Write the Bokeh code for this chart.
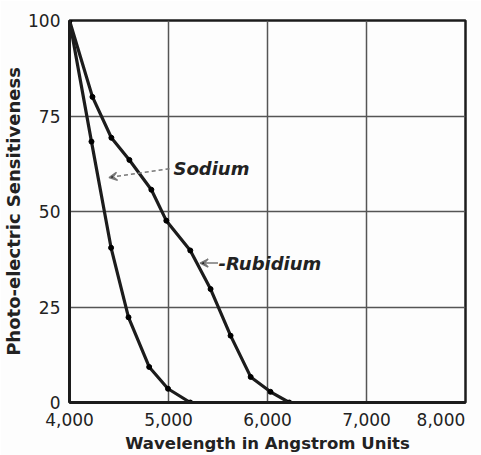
from bokeh.plotting import figure
from bokeh.models import Range1d, FixedTicker, Label, Arrow, VeeHead
from bokeh.embed import file_html
from bokeh.resources import INLINE

# ---- data ----
sodium_wl = [4000, 4222, 4420, 4596, 4805, 4995, 5220]
sodium_val = [100, 68.3, 40.5, 22.3, 9.3, 3.6, 0]

rubidium_wl = [4000, 4232, 4423, 4605, 4827, 4978, 5220, 5425, 5627, 5830, 6030, 6220]
rubidium_val = [100, 80, 69.3, 63.5, 55.7, 47.6, 39.8, 29.7, 17.5, 6.7, 2.8, 0]

x_ticks = [4000, 5000, 6000, 7000, 8000]
x_tick_labels = ["4,000", "5,000", "6,000", "7,000", "8,000"]
y_ticks = [0, 25, 50, 75, 100]

FONT = "DejaVu Sans"
INK = "#1c1c1c"
TXT = "#222222"

p = figure(width=481, height=455, output_backend="svg", toolbar_location=None,
           x_range=Range1d(4000, 8000), y_range=Range1d(0, 100),
           min_border_left=68, min_border_right=16, min_border_top=20, min_border_bottom=51,
           background_fill_color="#fdfdfd", border_fill_color="#fdfdfd")

p.outline_line_color = INK
p.outline_line_width = 2.5

p.xaxis.ticker = FixedTicker(ticks=x_ticks)
p.yaxis.ticker = FixedTicker(ticks=y_ticks)
overrides = {t: l for t, l in zip(x_ticks, x_tick_labels)}
# last label sits at the page edge: pad it so it stays inside the canvas
overrides[8000] = x_tick_labels[-1] + "\u00a0" * 3
p.xaxis.major_label_overrides = overrides

for ax in (p.xaxis, p.yaxis):
    ax.axis_line_color = INK
    ax.axis_line_width = 3
    ax.major_tick_line_color = None
    ax.minor_tick_line_color = None
    ax.major_tick_out = 0
    ax.major_tick_in = 0
    ax.minor_tick_out = 0
    ax.minor_tick_in = 0
    ax.major_label_text_font = FONT
    ax.major_label_text_font_size = "17px"
    ax.major_label_text_color = TXT
    ax.axis_label_text_font = FONT
    ax.axis_label_text_font_style = "bold"
    ax.axis_label_text_color = TXT

p.xaxis.axis_label = "Wavelength in Angstrom Units"
p.yaxis.axis_label = "Photo-electric Sensitiveness"
p.xaxis.axis_label_text_font_size = "16.5px"
p.yaxis.axis_label_text_font_size = "18px"
p.xaxis.major_label_standoff = 7
p.xaxis.axis_label_standoff = 1
p.yaxis.major_label_standoff = 9
p.yaxis.axis_label_standoff = 1

p.grid.grid_line_color = "#555555"
p.grid.grid_line_width = 1.5
p.xgrid.ticker = FixedTicker(ticks=x_ticks)
p.ygrid.ticker = FixedTicker(ticks=y_ticks)

# curves
p.line(sodium_wl, sodium_val, line_color=INK, line_width=3.2)
p.scatter(sodium_wl, sodium_val, size=5, color="#000000")
p.line(rubidium_wl, rubidium_val, line_color=INK, line_width=3.2)
p.scatter(rubidium_wl, rubidium_val, size=5, color="#000000")

# annotations
p.add_layout(Label(x=5050, y=61.3, text="Sodium", text_font=FONT, text_font_size="18px",
                   text_font_style="bold italic", text_baseline="middle", text_color=TXT))
p.add_layout(Arrow(end=VeeHead(size=8, line_color="#777777", line_width=1.5),
                   x_start=5010, y_start=61.2, x_end=4400, y_end=58.9,
                   line_color="#777777", line_width=1.5, line_dash="4 3"))
p.add_layout(Label(x=5505, y=36.5, text="-Rubidium", text_font=FONT, text_font_size="18px",
                   text_font_style="bold italic", text_baseline="middle", text_color=TXT))
p.add_layout(Arrow(end=VeeHead(size=8, line_color="#777777", line_width=1.5),
                   x_start=5500, y_start=36.5, x_end=5320, y_end=36.5,
                   line_color="#777777", line_width=1.5))

open("out.html", "w").write(file_html(p, INLINE))
